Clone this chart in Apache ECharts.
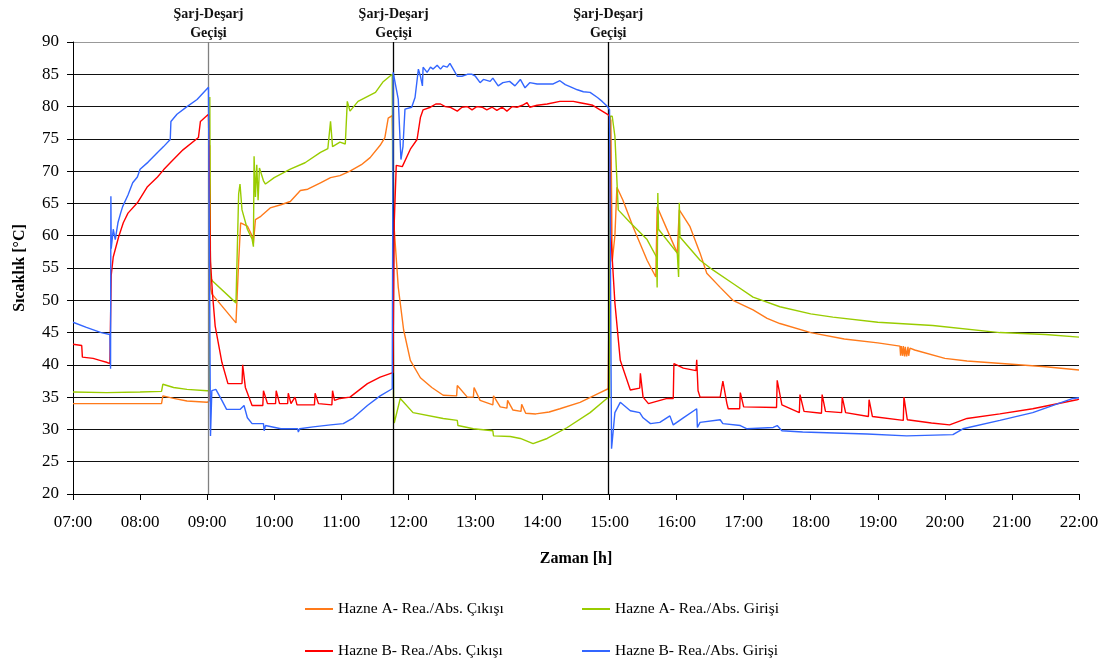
<!DOCTYPE html>
<html>
<head>
<meta charset="utf-8">
<script src="https://cdn.jsdelivr.net/npm/echarts@6/dist/echarts.min.js"></script>
<style>html,body{margin:0;padding:0;background:#fff;}#c{width:1114px;height:666px;}</style>
</head>
<body>
<div id="c"></div>
<script>
// ---- Data (time in decimal hours, temperature in °C) ----
const xTickLabels = ['07:00','08:00','09:00','10:00','11:00','12:00','13:00','14:00','15:00','16:00','17:00','18:00','19:00','20:00','21:00','22:00'];
const seriesNames = ['Hazne A- Rea./Abs. Çıkışı','Hazne A- Rea./Abs. Girişi','Hazne B- Rea./Abs. Çıkışı','Hazne B- Rea./Abs. Girişi'];
const transitionTimes = [9.02, 11.78, 14.98];
const transitionLabel = 'Şarj-Deşarj\nGeçişi';

const aOutT = [7.0,7.5,8.0,8.32,8.34,8.5,8.7,9.0,9.03,9.04,9.05,9.07,9.43,9.47,9.50,9.60,9.67,9.69,9.72,9.80,9.94,10.1,10.24,10.39,10.5,10.69,10.84,10.98,11.13,11.3,11.43,11.58,11.65,11.70,11.76,11.78,11.79,11.85,11.93,12.03,12.18,12.35,12.52,12.72,12.73,12.88,12.97,12.98,13.07,13.26,13.27,13.37,13.47,13.48,13.56,13.68,13.69,13.75,13.9,14.1,14.26,14.56,14.86,14.98,15.0,15.02,15.04,15.08,15.11,15.2,15.35,15.56,15.69,15.71,15.86,16.01,16.04,16.2,16.35,16.45,16.65,16.84,17.14,17.35,17.54,18.0,18.5,19.0,19.33,19.34,19.35,19.37,19.38,19.40,19.41,19.43,19.45,19.46,19.48,19.55,20.0,20.33,21.0,21.5,22.0];
const aOutV = [34.0,34.0,34.0,34.0,35.2,34.8,34.4,34.2,34.4,74.0,52.0,51.0,46.5,56.0,62.0,61.5,60.0,58.8,62.5,63.0,64.3,64.8,65.3,67.0,67.2,68.2,69.0,69.3,70.0,71.0,72.1,74.0,75.2,78.2,78.6,78.8,61.0,52.0,45.4,40.7,38.0,36.5,35.3,35.2,36.8,35.0,35.0,36.5,34.5,33.8,35.2,33.5,33.3,34.5,33.0,32.8,33.9,32.5,32.4,32.7,33.2,34.2,35.7,36.3,36.5,78.0,56.0,60.0,67.5,65.5,61.4,56.2,53.6,64.5,60.9,57.3,64.0,61.4,57.3,54.2,52.0,50.0,48.5,47.2,46.4,45.0,44.0,43.4,42.9,41.4,42.9,41.4,42.9,41.3,42.8,41.3,42.8,41.4,42.6,42.3,41.0,40.6,40.1,39.7,39.2];

const aInT = [7.0,7.5,8.0,8.32,8.34,8.5,8.7,9.0,9.03,9.04,9.05,9.08,9.43,9.45,9.47,9.49,9.52,9.60,9.67,9.69,9.70,9.72,9.74,9.76,9.78,9.84,9.87,10.0,10.24,10.46,10.69,10.80,10.84,10.87,10.98,11.06,11.09,11.13,11.25,11.51,11.62,11.76,11.78,11.79,11.88,12.07,12.52,12.73,12.74,12.97,13.26,13.27,13.52,13.67,13.86,14.07,14.37,14.71,14.96,15.0,15.01,15.04,15.08,15.13,15.31,15.56,15.70,15.71,15.72,15.73,16.01,16.03,16.04,16.05,16.35,16.54,16.84,17.14,17.54,18.0,18.33,19.0,19.82,20.82,21.5,22.0];
const aInV = [35.8,35.7,35.8,35.9,37.0,36.5,36.2,36.0,36.0,81.5,53.5,53.0,49.6,58.0,66.5,68.0,64.0,61.0,59.5,58.3,72.3,66.0,71.0,65.5,70.5,68.5,68.0,69.0,70.3,71.3,72.9,73.5,77.7,73.8,74.5,74.2,80.8,79.3,80.8,82.2,83.8,85.0,35.0,31.0,34.8,32.6,31.7,31.4,30.6,30.1,29.8,29.0,28.9,28.6,27.8,28.6,30.3,32.6,34.8,35.0,78.5,78.5,75.4,64.0,62.0,59.4,56.7,52.0,66.6,61.0,57.3,53.6,65.1,59.8,56.2,54.7,52.6,50.5,49.0,47.9,47.4,46.6,46.1,45.0,44.7,44.3];

const bOutT = [7.0,7.13,7.14,7.3,7.4,7.5,7.55,7.56,7.57,7.60,7.68,7.75,7.82,7.96,8.11,8.26,8.35,8.45,8.64,8.87,8.90,9.02,9.04,9.05,9.08,9.12,9.22,9.31,9.52,9.53,9.57,9.67,9.83,9.84,9.9,10.02,10.03,10.08,10.2,10.21,10.25,10.31,10.34,10.60,10.61,10.66,10.86,10.87,10.9,10.98,11.13,11.39,11.58,11.77,11.79,11.82,11.91,12.03,12.13,12.18,12.22,12.33,12.41,12.48,12.55,12.62,12.73,12.80,12.88,12.95,13.02,13.10,13.17,13.25,13.32,13.40,13.47,13.55,13.62,13.70,13.77,13.81,13.92,14.07,14.26,14.46,14.56,14.66,14.75,14.86,14.97,15.0,15.02,15.08,15.16,15.31,15.45,15.46,15.50,15.58,15.86,15.95,15.96,16.10,16.29,16.30,16.32,16.35,16.65,16.69,16.75,16.77,16.94,16.95,17.0,17.49,17.50,17.57,17.83,17.84,17.9,18.16,18.17,18.22,18.46,18.47,18.52,18.86,18.87,18.92,19.38,19.39,19.44,19.8,20.07,20.33,20.82,21.31,21.97,22.0];
const bOutV = [43.2,43.0,41.2,41.0,40.7,40.4,40.2,40.0,53.9,56.7,59.8,62.0,63.5,65.1,67.6,69.1,70.2,71.3,73.3,75.2,77.7,78.8,78.8,56.0,51.0,46.0,40.4,37.1,37.1,40.0,36.5,33.7,33.7,36.0,34.0,34.0,36.0,34.0,34.0,35.6,34.0,35.0,33.8,33.8,35.6,34.0,33.8,36.0,34.5,34.8,35.0,37.1,38.1,38.8,62.0,70.9,70.7,73.4,74.9,78.3,79.5,79.9,80.4,80.4,80.0,79.9,79.3,79.9,80.0,79.5,80.0,79.9,79.5,79.9,79.4,79.9,79.3,80.0,79.9,80.2,80.6,79.9,80.2,80.4,80.8,80.8,80.6,80.4,80.2,79.5,78.8,78.5,60.0,49.6,40.7,36.1,36.4,38.7,35.0,34.0,34.8,34.8,40.2,39.5,39.1,40.8,36.0,35.0,35.0,37.5,34.0,33.2,33.2,35.7,33.5,33.4,37.6,33.8,32.6,35.4,32.8,32.5,35.4,32.8,32.6,35.0,32.6,32.0,34.6,32.0,31.4,35.0,31.5,31.0,30.7,31.7,32.4,33.2,34.6,34.7];

const bInT = [7.0,7.2,7.42,7.55,7.56,7.565,7.57,7.60,7.63,7.67,7.71,7.74,7.82,7.89,7.96,8.0,8.12,8.26,8.35,8.45,8.46,8.55,8.70,8.85,9.02,9.04,9.05,9.07,9.13,9.22,9.29,9.49,9.55,9.6,9.67,9.84,9.85,9.87,10.1,10.35,10.36,10.38,10.58,10.84,11.03,11.18,11.39,11.58,11.76,11.774,11.85,11.89,11.92,11.95,12.05,12.10,12.15,12.18,12.21,12.22,12.28,12.33,12.37,12.43,12.48,12.52,12.58,12.62,12.67,12.73,12.80,12.88,12.95,13.00,13.07,13.12,13.22,13.26,13.34,13.41,13.51,13.59,13.67,13.74,13.81,13.92,14.07,14.16,14.26,14.34,14.41,14.52,14.61,14.71,14.82,14.89,14.97,15.0,15.03,15.08,15.16,15.31,15.45,15.50,15.61,15.75,15.90,15.95,16.10,16.30,16.31,16.35,16.65,16.69,16.95,17.05,17.44,17.50,17.57,17.88,18.84,19.43,20.12,20.27,20.82,21.31,21.91,22.0];
const bInV = [46.6,45.8,45.0,44.7,39.4,66.1,58.0,61.0,59.4,62.0,63.5,64.5,66.3,68.2,69.1,70.3,71.4,72.9,73.8,74.9,77.7,78.8,80.0,81.1,83.0,83.0,29.0,36.0,36.2,34.5,33.1,33.1,33.7,31.8,30.9,30.9,29.8,30.6,30.1,30.1,29.6,30.1,30.4,30.7,30.9,31.8,33.7,35.2,36.3,85.3,81.1,71.8,73.8,79.6,79.9,81.4,85.8,84.7,83.2,86.1,85.3,86.1,85.8,86.4,85.8,86.3,86.1,86.7,85.8,84.7,84.7,85.0,85.0,84.7,83.7,84.2,83.9,84.4,83.2,83.7,83.9,83.2,84.2,82.9,83.7,83.5,83.5,83.5,84.0,83.4,83.1,82.6,82.3,82.2,81.4,80.8,80.0,79.5,27.0,32.6,34.2,32.9,32.6,31.8,30.9,31.1,32.1,30.7,31.8,33.2,30.3,31.1,31.5,30.9,30.6,30.1,30.3,30.6,29.8,29.6,29.3,29.0,29.2,30.1,31.4,32.6,34.8,34.9];

const colors = ['#FF7A1A','#99CC00','#FF0000','#3366FF'];
const zip = (t, v) => t.map((x, i) => [x, v[i]]);
const seriesData = [zip(aOutT, aOutV), zip(aInT, aInV), zip(bOutT, bOutV), zip(bInT, bInV)];

const FONT = '"Liberation Serif", "Times New Roman", serif';

const chart = echarts.init(document.getElementById('c'), null, {renderer: 'canvas'});

const series = seriesData.map((d, i) => ({
  name: seriesNames[i],
  type: 'line',
  data: d,
  showSymbol: false,
  symbol: 'none',
  smooth: false,
  animation: false,
  lineStyle: {color: colors[i], width: 1.4},
  itemStyle: {color: colors[i]},
  z: 3 + i
}));

series.push({
  name: 'transitions',
  type: 'line',
  data: [],
  silent: true,
  animation: false,
  z: 2,
  markLine: {
    symbol: 'none',
    silent: true,
    animation: false,
    data: transitionTimes.map((t, i) => ({
      xAxis: t,
      lineStyle: {color: i === 0 ? '#808080' : '#000', width: 1.3, type: 'solid'}
    })),
    label: {
      show: true,
      position: 'end',
      formatter: transitionLabel,
      fontFamily: FONT,
      fontWeight: 'bold',
      fontSize: 14,
      lineHeight: 19,
      color: '#111',
      distance: -1
    }
  }
});

const splitColors = [];
for (let i = 0; i < 14; i++) splitColors.push('#111');
splitColors.push('#999');

const legendPos = [[305, 601], [582, 601], [305, 643], [582, 643]];
const legends = seriesNames.map((n, i) => ({
  data: [n],
  left: legendPos[i][0], top: legendPos[i][1],
  padding: 0,
  icon: 'rect', itemWidth: 28, itemHeight: 2,
  textStyle: {fontFamily: FONT, fontSize: 15.5, color: '#000'}
}));

chart.setOption({
  animation: false,
  backgroundColor: '#fff',
  grid: {left: 73, right: 35, top: 42, bottom: 172, containLabel: false},
  xAxis: {
    type: 'value',
    min: 7, max: 22, interval: 1,
    name: 'Zaman [h]',
    nameLocation: 'middle',
    nameGap: 57,
    nameTextStyle: {fontFamily: FONT, fontWeight: 'bold', fontSize: 16, color: '#000'},
    axisLine: {show: true, lineStyle: {color: '#000', width: 1}},
    axisTick: {show: true, length: 6, lineStyle: {color: '#000'}},
    axisLabel: {
      margin: 20,
      fontFamily: FONT, fontSize: 17, color: '#000',
      formatter: v => xTickLabels[Math.round(v - 7)]
    },
    splitLine: {show: false}
  },
  yAxis: {
    type: 'value',
    min: 20, max: 90, interval: 5,
    name: 'Sıcaklık [°C]',
    nameLocation: 'middle',
    nameRotate: 90,
    nameGap: 45,
    nameTextStyle: {fontFamily: FONT, fontWeight: 'bold', fontSize: 16, color: '#000'},
    axisLine: {show: true, lineStyle: {color: '#000', width: 1}},
    axisTick: {show: true, length: 6, lineStyle: {color: '#000'}},
    axisLabel: {margin: 14, fontFamily: FONT, fontSize: 17, color: '#000'},
    splitLine: {show: true, lineStyle: {color: splitColors, width: 1}}
  },
  legend: legends,
  series: series
});
</script>
</body>
</html>
